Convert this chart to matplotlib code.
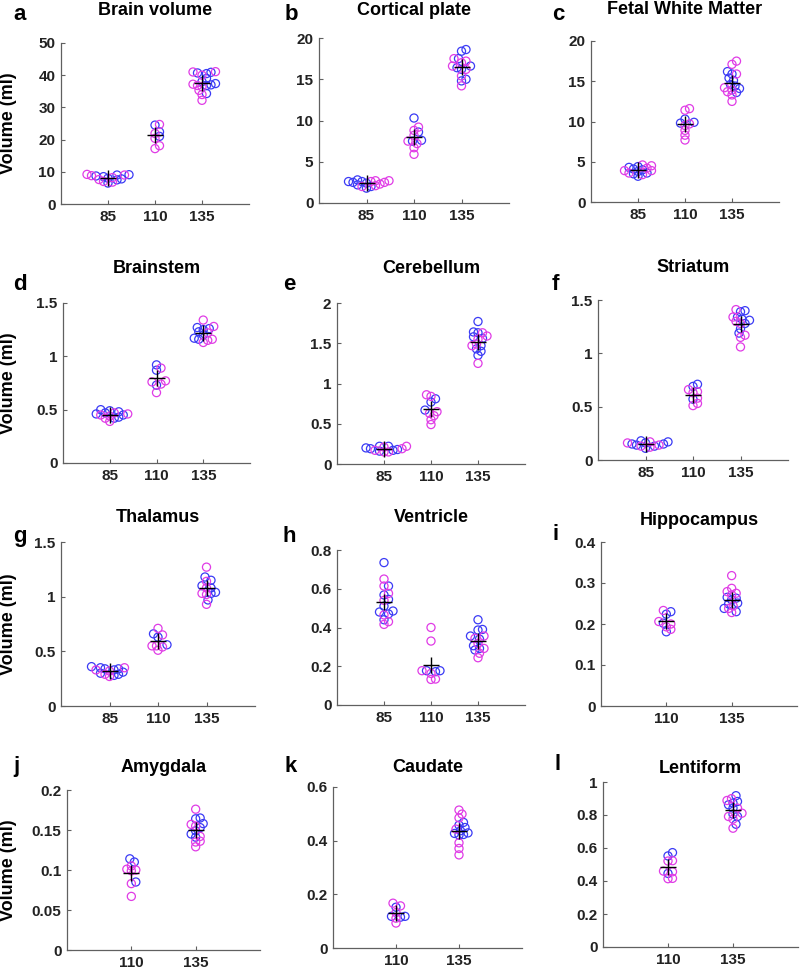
import numpy as np
import matplotlib
matplotlib.use("Agg")
import matplotlib.pyplot as plt
from matplotlib.ticker import FormatStrFormatter

plt.rcParams['font.family'] = ['Liberation Sans', 'DejaVu Sans']

# ---- data (ml); groups = gestational age (days) ----
ages3 = [85, 110, 135]
ages2 = [110, 135]

brain_blue = [[9.1, 9.0, 8.5, 8.0, 7.5, 6.5, 8.7, 7.8],
              [24.5, 22.4, 21.0],
              [40.9, 40.7, 40.5, 39.0, 38.0, 37.4, 36.8, 37.0, 34.3]]
brain_mag = [[7.0, 6.8, 8.8, 9.2, 8.2, 7.6, 9.0],
             [24.7, 21.9, 20.4, 18.1, 17.2],
             [41.1, 41.0, 40.0, 36.8, 36.4, 35.3, 34.0, 32.2, 37.2]]

cp_blue = [[2.6, 2.5, 1.8, 2.0, 2.4, 2.6, 2.8, 2.2],
           [10.3, 8.6, 7.6, 7.5],
           [18.6, 18.4, 17.5, 16.6, 16.4, 16.2, 15.0, 14.8]]
cp_mag = [[2.7, 2.6, 2.5, 2.3, 2.1, 2.0, 2.7],
          [9.2, 8.8, 7.5, 7.2, 6.7, 5.9, 8.2],
          [17.5, 17.2, 17.0, 16.6, 16.2, 15.4, 14.2]]

fwm_blue = [[4.0, 4.3, 4.4, 3.8, 3.5, 3.2, 4.1, 3.6],
            [10.3, 9.9, 9.8],
            [16.2, 15.9, 15.4, 15.1, 14.6, 14.4, 14.1, 13.6]]
fwm_mag = [[4.6, 4.5, 3.9, 3.6, 3.4, 3.9, 4.2],
           [11.6, 11.4, 9.5, 8.9, 8.3, 7.7, 9.7],
           [17.5, 17.1, 15.9, 13.9, 13.7, 13.3, 12.5, 14.2]]

bs_blue = [[0.48, 0.49, 0.50, 0.47, 0.45, 0.43, 0.42, 0.46],
           [0.92, 0.87, 0.73],
           [1.27, 1.25, 1.23, 1.20, 1.17, 1.16, 1.26]]
bs_mag = [[0.46, 0.44, 0.42, 0.39, 0.47, 0.45],
          [0.89, 0.77, 0.76, 0.74, 0.66],
          [1.34, 1.28, 1.22, 1.16, 1.13, 1.15]]

cb_blue = [[0.20, 0.22, 0.22, 0.17, 0.19, 0.16, 0.18],
           [0.81, 0.77, 0.67],
           [1.77, 1.64, 1.63, 1.58, 1.56, 1.47, 1.43, 1.40, 1.35]]
cb_mag = [[0.15, 0.21, 0.22, 0.19, 0.17, 0.15],
          [0.86, 0.84, 0.63, 0.60, 0.65, 0.55, 0.49],
          [1.63, 1.59, 1.55, 1.49, 1.47, 1.25]]

st_blue = [[0.16, 0.18, 0.17, 0.15, 0.13, 0.11, 0.14, 0.15],
           [0.71, 0.69, 0.57],
           [1.40, 1.39, 1.34, 1.32, 1.31, 1.28, 1.23, 1.19]]
st_mag = [[0.17, 0.16, 0.13, 0.12, 0.14],
          [0.66, 0.64, 0.58, 0.53, 0.51, 0.63],
          [1.41, 1.30, 1.28, 1.17, 1.15, 1.06, 1.34]]

th_blue = [[0.33, 0.34, 0.35, 0.36, 0.34, 0.30, 0.28, 0.29, 0.31],
           [0.66, 0.63, 0.56],
           [1.18, 1.15, 1.10, 1.08, 1.04, 1.03, 0.97]]
th_mag = [[0.35, 0.33, 0.29, 0.27, 0.32],
          [0.71, 0.65, 0.55, 0.54, 0.51, 0.55],
          [1.27, 1.14, 1.08, 1.02, 1.03, 0.93]]

ve_blue = [[0.735, 0.614, 0.568, 0.545, 0.51, 0.485, 0.48, 0.44, 0.47],
           [0.177, 0.172, 0.177],
           [0.44, 0.39, 0.387, 0.356, 0.34, 0.306, 0.292, 0.284]]
ve_mag = [[0.65, 0.614, 0.576, 0.54, 0.465, 0.43, 0.416],
          [0.40, 0.33, 0.163, 0.134, 0.132, 0.177],
          [0.356, 0.344, 0.318, 0.292, 0.267, 0.244]]

hc_blue = [[0.23, 0.224, 0.181, 0.202],
           [0.263, 0.265, 0.251, 0.249, 0.238, 0.23, 0.259]]
hc_mag = [[0.233, 0.206, 0.193, 0.187, 0.20],
          [0.318, 0.287, 0.279, 0.275, 0.244, 0.238, 0.228, 0.271]]

am_blue = [[0.114, 0.110, 0.085],
           [0.165, 0.164, 0.153, 0.149, 0.145, 0.141, 0.158]]
am_mag = [[0.100, 0.099, 0.105, 0.083, 0.067, 0.101],
          [0.176, 0.157, 0.155, 0.142, 0.135, 0.136, 0.129]]

ca_blue = [[0.152, 0.118, 0.115, 0.118],
           [0.468, 0.458, 0.449, 0.437, 0.427, 0.423, 0.421, 0.429]]
ca_mag = [[0.167, 0.157, 0.132, 0.111, 0.093],
          [0.514, 0.499, 0.485, 0.443, 0.392, 0.371, 0.347]]

le_blue = [[0.572, 0.552, 0.446],
           [0.917, 0.882, 0.872, 0.862, 0.842, 0.805, 0.791, 0.744]]
le_mag = [[0.523, 0.521, 0.456, 0.460, 0.416, 0.414],
          [0.899, 0.888, 0.842, 0.791, 0.775, 0.72, 0.811]]

titles = ['Brain volume', 'Cortical plate', 'Fetal White Matter',
          'Brainstem', 'Cerebellum', 'Striatum',
          'Thalamus', 'Ventricle', 'Hippocampus',
          'Amygdala', 'Caudate', 'Lentiform']
letters = list('abcdefghijkl')
y_max = [50, 20, 20, 1.5, 2, 1.5, 1.5, 0.8, 0.4, 0.2, 0.6, 1]
y_step = [10, 5, 5, 0.5, 0.5, 0.5, 0.5, 0.2, 0.1, 0.05, 0.2, 0.2]

panels = [(brain_blue, brain_mag), (cp_blue, cp_mag), (fwm_blue, fwm_mag),
          (bs_blue, bs_mag), (cb_blue, cb_mag), (st_blue, st_mag),
          (th_blue, th_mag), (ve_blue, ve_mag), (hc_blue, hc_mag),
          (am_blue, am_mag), (ca_blue, ca_mag), (le_blue, le_mag)]

# ---- layout in pixels: left, top, right, bottom ----
W, H = 800, 973
boxes = [(61, 43, 249, 204), (319, 38, 509, 203), (591, 41, 779, 202),
         (63, 303, 250, 463), (337, 303, 525, 464), (598, 300, 788, 460),
         (61, 542, 255, 706), (337, 550, 525, 705), (601, 542, 797, 706),
         (67, 790, 260, 950), (333, 787, 522, 948), (603, 782, 798, 947)]
title_y = [15, 15, 14, 273, 273, 272, 522, 522, 525, 772, 772, 773]
letter_xy = [(13, 20), (285, 20), (552, 20), (13, 290), (283, 290), (552, 290),
             (13, 542), (283, 542), (553, 540), (13, 772), (285, 772), (555, 770)]

BLUE = '#3b3bf5'
MAG = '#e03ce6'


def swarm_x(ax, center, ys, d=4.5, step=1.5):
    # simple beeswarm in display pixels
    pts = ax.transData.transform(np.column_stack([np.full(len(ys), center), ys]))
    placed = []
    xs = np.zeros(len(ys))
    for i in np.argsort(ys):
        x0, y0 = pts[i]
        for k in range(300):
            off = ((k + 1) // 2) * step * (1 if k % 2 else -1)
            if all(np.hypot(x0 + off - px, y0 - py) >= d for px, py in placed):
                break
        placed.append((x0 + off, y0))
        xs[i] = x0 + off
    back = ax.transData.inverted().transform(np.column_stack([xs, pts[:, 1]]))
    return back[:, 0]


fig = plt.figure(figsize=(W / 100, H / 100), dpi=100)

for n, (blue, mag) in enumerate(panels):
    l, t, r, b = boxes[n]
    ax = fig.add_axes([l / W, 1 - b / H, (r - l) / W, (b - t) / H])
    ages = ages3 if len(blue) == 3 else ages2
    ax.set_xlim(60 if len(blue) == 3 else 85, 160)
    ax.set_ylim(0, y_max[n])
    for g, age in enumerate(ages):
        vals = np.array(blue[g] + mag[g])
        cols = [BLUE] * len(blue[g]) + [MAG] * len(mag[g])
        xs = swarm_x(ax, age, vals)
        ax.scatter(xs, vals, s=34, facecolors='none', edgecolors=cols,
                   linewidths=0.9, zorder=2)
        ax.plot(age, vals.mean(), marker='+', color='black', markersize=11,
                markeredgewidth=1.0, zorder=3)
    ax.set_xticks(ages)
    ax.set_yticks(np.arange(0, y_max[n] + y_step[n] / 2, y_step[n]))
    ax.yaxis.set_major_formatter(FormatStrFormatter('%g'))
    for side in ['top', 'right']:
        ax.spines[side].set_visible(False)
    for side in ['left', 'bottom']:
        ax.spines[side].set_color('#606060')
        ax.spines[side].set_linewidth(0.9)
    ax.tick_params(direction='in', length=3, width=0.8, color='#606060',
                   labelsize=11, labelcolor='#222222', pad=4)
    for lab in ax.get_xticklabels() + ax.get_yticklabels():
        lab.set_fontweight('bold')
    if n % 3 == 0:
        fig.text(9 / W, 1 - (t + b) / 2 / H, 'Volume (ml)', rotation=90,
                 ha='center', va='center', fontsize=13, fontweight='bold')

    fig.text((l + r) / 2 / W, 1 - title_y[n] / H, titles[n], ha='center',
             va='baseline', fontsize=13, fontweight='bold')
    lx, ly = letter_xy[n]
    fig.text(lx / W, 1 - ly / H, letters[n], ha='left', va='baseline',
             fontsize=16, fontweight='bold')

fig.savefig('out.png', dpi=100, facecolor='white')
